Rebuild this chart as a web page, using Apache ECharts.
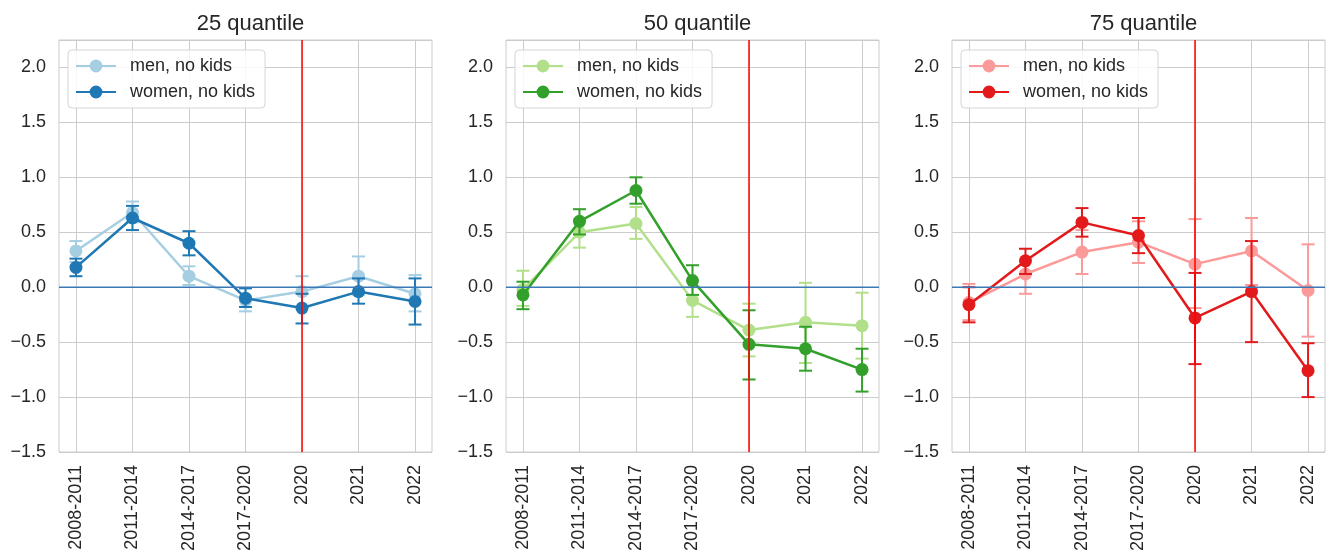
<!DOCTYPE html>
<html>
<head>
<meta charset="utf-8">
<script src="https://cdn.jsdelivr.net/npm/echarts@6/dist/echarts.min.js"></script>
<style>
html,body{margin:0;padding:0;background:#fff;}
#chart{width:1331px;height:556px;}
</style>
</head>
<body>
<div id="chart"></div>
<script>
// ---- data ----
const categories = ['2008-2011','2011-2014','2014-2017','2017-2020','2020','2021','2022'];
const panelTitles = ['25 quantile','50 quantile','75 quantile'];
const yTicks = [-1.5,-1.0,-0.5,0.0,0.5,1.0,1.5,2.0];

// 25 quantile
const men25    = [0.33, 0.68, 0.10, -0.12, -0.04, 0.10, -0.06];
const men25Lo  = [0.23, 0.59, 0.02, -0.22, -0.18, -0.07, -0.22];
const men25Hi  = [0.42, 0.78, 0.19, -0.01, 0.10, 0.28, 0.11];
const women25   = [0.18, 0.63, 0.40, -0.10, -0.19, -0.04, -0.13];
const women25Lo = [0.10, 0.52, 0.29, -0.18, -0.33, -0.15, -0.34];
const women25Hi = [0.26, 0.74, 0.51, -0.01, -0.06, 0.08, 0.08];

// 50 quantile
const men50    = [-0.02, 0.50, 0.58, -0.12, -0.39, -0.32, -0.35];
const men50Lo  = [-0.17, 0.36, 0.44, -0.27, -0.63, -0.69, -0.65];
const men50Hi  = [0.15, 0.62, 0.73, 0.00, -0.15, 0.04, -0.05];
const women50   = [-0.07, 0.60, 0.88, 0.06, -0.52, -0.56, -0.75];
const women50Lo = [-0.20, 0.48, 0.76, -0.07, -0.84, -0.76, -0.95];
const women50Hi = [0.05, 0.71, 1.00, 0.20, -0.21, -0.36, -0.56];

// 75 quantile
const men75    = [-0.14, 0.12, 0.32, 0.41, 0.21, 0.33, -0.03];
const men75Lo  = [-0.30, -0.06, 0.12, 0.22, -0.19, 0.02, -0.45];
const men75Hi  = [0.03, 0.25, 0.52, 0.60, 0.62, 0.63, 0.39];
const women75   = [-0.16, 0.24, 0.59, 0.47, -0.28, -0.04, -0.76];
const women75Lo = [-0.32, 0.12, 0.46, 0.31, -0.70, -0.50, -1.00];
const women75Hi = [0.00, 0.35, 0.72, 0.63, 0.13, 0.42, -0.51];

const menLabel = 'men, no kids';
const womenLabel = 'women, no kids';

// ---- build ----
const FONT = "'Liberation Sans', Arial, sans-serif";
const TXT = '#262626';
const panels = [
  {men:men25, menLo:men25Lo, menHi:men25Hi, women:women25, womenLo:women25Lo, womenHi:women25Hi, cMen:'#a6cee3', cWomen:'#1f78b4'},
  {men:men50, menLo:men50Lo, menHi:men50Hi, women:women50, womenLo:women50Lo, womenHi:women50Hi, cMen:'#b2df8a', cWomen:'#33a02c'},
  {men:men75, menLo:men75Lo, menHi:men75Hi, women:women75, womenLo:women75Lo, womenHi:women75Hi, cMen:'#fb9a99', cWomen:'#e31a1c'}
];
const gridLefts = [59, 506, 952];
const gridWidth = 373;
const gridTop = 40, gridHeight = 412;
const idx = categories.map((c,i)=>i);

function errRender(color){
  return function(params, api){
    const x = api.value(0), lo = api.value(1), hi = api.value(2);
    const a = api.coord([x, lo]), b = api.coord([x, hi]);
    const w = 6.5;
    const st = {stroke: color, lineWidth: 2};
    return {type:'group', children:[
      {type:'line', shape:{x1:a[0], y1:a[1], x2:b[0], y2:b[1]}, style:st},
      {type:'line', shape:{x1:a[0]-w, y1:a[1], x2:a[0]+w, y2:a[1]}, style:st},
      {type:'line', shape:{x1:b[0]-w, y1:b[1], x2:b[0]+w, y2:b[1]}, style:st}
    ]};
  };
}

const grid=[], xAxis=[], yAxis=[], series=[], legend=[], title=[];
panels.forEach((p, k)=>{
  grid.push({left:gridLefts[k], top:gridTop, width:gridWidth, height:gridHeight, show:true, borderColor:'#cccccc', borderWidth:1, backgroundColor:'#fff'});
  title.push({text:panelTitles[k], left:gridLefts[k]+gridWidth/2, top:8, textAlign:'center',
    textStyle:{fontFamily:FONT, fontSize:22, fontWeight:'normal', color:TXT}});
  xAxis.push({type:'value', gridIndex:k, min:-0.3, max:6.3,
    axisLine:{show:false}, axisTick:{show:false, customValues:idx},
    axisLabel:{customValues:idx, rotate:90, margin:13, fontFamily:FONT, fontSize:18, color:TXT,
      formatter:v=>categories[Math.round(v)]},
    splitLine:{show:true, lineStyle:{color:'#cccccc', width:1}}});
  yAxis.push({type:'value', gridIndex:k, min:-1.5, max:2.25, interval:0.5,
    axisLine:{show:false}, axisTick:{show:false},
    axisLabel:{margin:13, fontFamily:FONT, fontSize:18, color:TXT, showMaxLabel:false,
      formatter:v=> (Math.abs(v*2-Math.round(v*2))<1e-6 && v<2.2) ? v.toFixed(1).replace('-','\u2212') : ''},
    splitLine:{show:true, lineStyle:{color:'#cccccc', width:1}}});
  const mName = 'm'+k, wName = 'w'+k;
  series.push({type:'custom', xAxisIndex:k, yAxisIndex:k, z:2, silent:true, renderItem:errRender(p.cMen),
    data: idx.map(i=>[i, p.menLo[i], p.menHi[i]])});
  series.push({type:'line', name:mName, xAxisIndex:k, yAxisIndex:k, z:3, symbol:'circle', symbolSize:13,
    itemStyle:{color:p.cMen}, lineStyle:{color:p.cMen, width:2.5}, animation:false,
    data: idx.map(i=>[i, p.men[i]])});
  series.push({type:'custom', xAxisIndex:k, yAxisIndex:k, z:4, silent:true, renderItem:errRender(p.cWomen),
    data: idx.map(i=>[i, p.womenLo[i], p.womenHi[i]])});
  series.push({type:'line', name:wName, xAxisIndex:k, yAxisIndex:k, z:5, symbol:'circle', symbolSize:13,
    itemStyle:{color:p.cWomen}, lineStyle:{color:p.cWomen, width:2.5}, animation:false,
    data: idx.map(i=>[i, p.women[i]])});
  // zero reference line
  series.push({type:'line', xAxisIndex:k, yAxisIndex:k, z:6, symbol:'none', silent:true, animation:false,
    lineStyle:{color:'#3a78b6', width:1.5}, data:[[-0.3,0],[6.3,0]]});
  // 2020 vertical line
  series.push({type:'line', xAxisIndex:k, yAxisIndex:k, z:7, symbol:'none', silent:true, animation:false,
    lineStyle:{color:'#ff0000', width:1.5}, data:[[4,-1.5],[4,2.25]]});
  legend.push({data:[mName, wName], orient:'vertical', left:gridLefts[k]+9, top:50,
    itemWidth:40, itemHeight:16, itemGap:8, padding:[7,10,7,7],
    backgroundColor:'rgba(255,255,255,0.85)', borderColor:'#d5d5d5', borderWidth:1, borderRadius:4,
    textStyle:{fontFamily:FONT, fontSize:18, color:TXT, lineHeight:18, padding:[0,0,0,9]},
    formatter:n=> n[0]==='m' ? menLabel : womenLabel, selectedMode:false});
});

const chart = echarts.init(document.getElementById('chart'), null, {renderer:'canvas'});
chart.setOption({backgroundColor:'#ffffff', animation:false, title, grid, xAxis, yAxis, series, legend});
</script>
</body>
</html>
